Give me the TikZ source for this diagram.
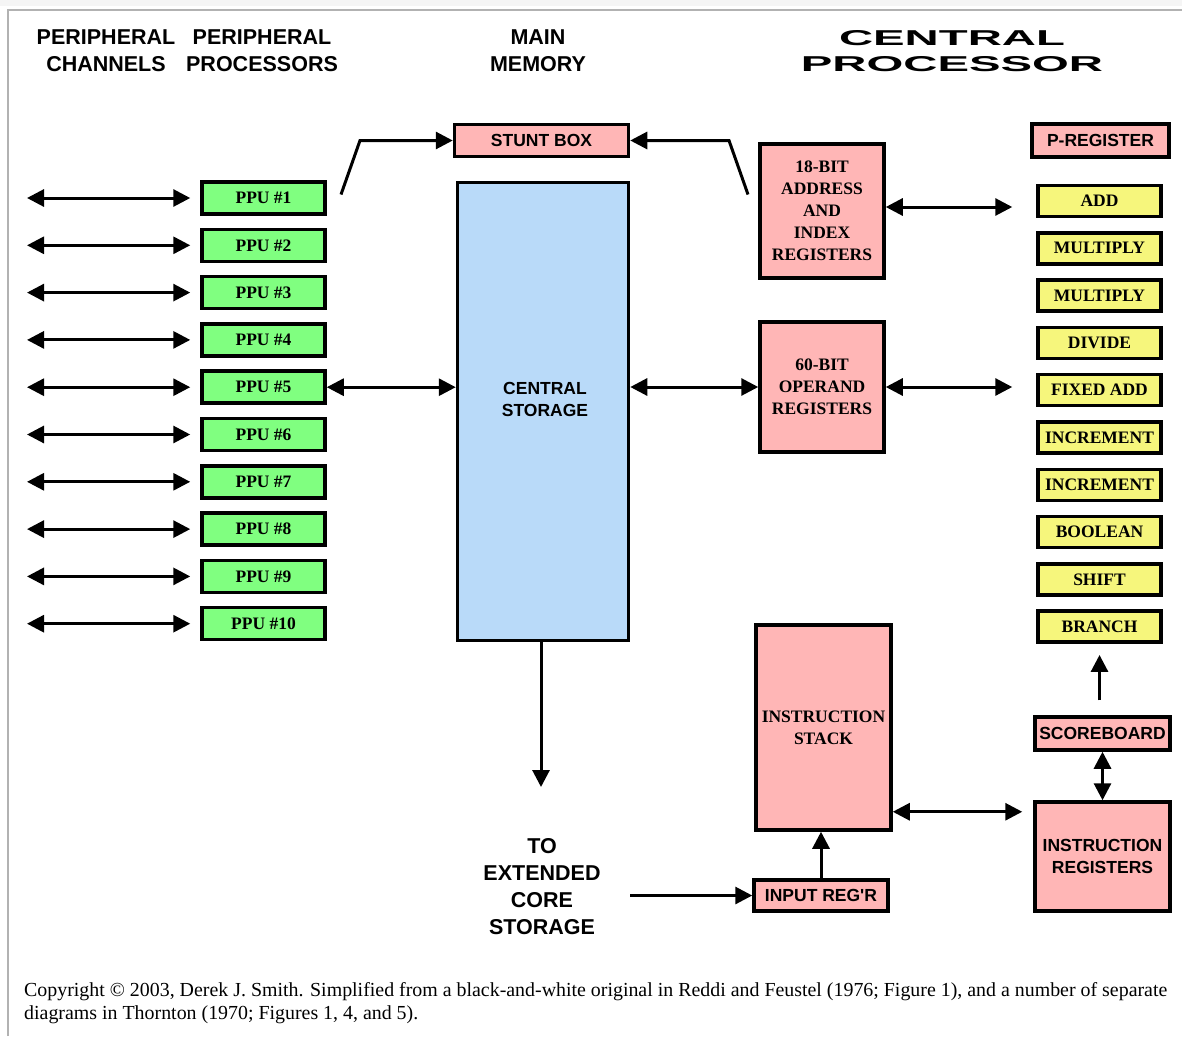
\documentclass[tikz,border=0pt]{standalone}
\usepackage{fontspec}
\setmainfont{Liberation Serif}
\setsansfont{Liberation Sans}
\newfontfamily\widefont[FakeStretch=2.2]{Liberation Sans}
\usetikzlibrary{arrows.meta}
\definecolor{ppugreen}{RGB}{128,255,128}
\definecolor{unityellow}{RGB}{246,246,124}
\definecolor{regpink}{RGB}{255,182,182}
\definecolor{storeblue}{RGB}{185,218,249}
\newcommand{\boxfont}{\fontsize{17.5}{22}\selectfont\bfseries}

\begin{document}
\begin{tikzpicture}[x=1pt,y=-1pt,>={Triangle[length=17pt,width=17pt]},
  box/.style={draw,line width=3.5pt,inner sep=0pt,align=center},
  ppubox/.style={box,fill=ppugreen,minimum width=123pt,minimum height=32pt,font=\rmfamily\boxfont},
  unitbox/.style={box,fill=unityellow,minimum width=123pt,minimum height=31pt,font=\rmfamily\boxfont},
  regbox/.style={box,fill=regpink},
  heading/.style={font=\sffamily\bfseries\fontsize{21.5}{27}\selectfont,align=center},
  link/.style={line width=3pt}]
  \useasboundingbox (0,0) rectangle (1182,1036);
  \fill[gray!8] (0,0) rectangle (1182,6);
  \draw[gray!60,line width=2pt] (8,1036) -- (8,10) -- (1182,10);

  % column headings
  \node[heading] (pchan) at (106,51) {PERIPHERAL\\CHANNELS};
  \node[heading] (pproc) at (262,51) {PERIPHERAL\\PROCESSORS};
  \node[heading] (mainmem) at (538,51) {MAIN\\MEMORY};
  \node[heading,font=\widefont\bfseries\fontsize{21.5}{26}\selectfont] (cpu) at (952,51) {CENTRAL\\PROCESSOR};

  % peripheral processors
  \node[ppubox] (ppu1) at (263.5,198) {PPU \#1};
  \node[ppubox] (ppu2) at (263.5,245.3) {PPU \#2};
  \node[ppubox] (ppu3) at (263.5,292.6) {PPU \#3};
  \node[ppubox] (ppu4) at (263.5,339.9) {PPU \#4};
  \node[ppubox] (ppu5) at (263.5,387.2) {PPU \#5};
  \node[ppubox] (ppu6) at (263.5,434.5) {PPU \#6};
  \node[ppubox] (ppu7) at (263.5,481.8) {PPU \#7};
  \node[ppubox] (ppu8) at (263.5,529.1) {PPU \#8};
  \node[ppubox] (ppu9) at (263.5,576.4) {PPU \#9};
  \node[ppubox] (ppu10) at (263.5,623.7) {PPU \#10};

  \coordinate (ch1) at (27,198);
  \coordinate (ch2) at (27,245.3);
  \coordinate (ch3) at (27,292.6);
  \coordinate (ch4) at (27,339.9);
  \coordinate (ch5) at (27,387.2);
  \coordinate (ch6) at (27,434.5);
  \coordinate (ch7) at (27,481.8);
  \coordinate (ch8) at (27,529.1);
  \coordinate (ch9) at (27,576.4);
  \coordinate (ch10) at (27,623.7);
  \draw[link,<->,shorten >=10pt] (ch1) -- (ppu1.west);
  \draw[link,<->,shorten >=10pt] (ch2) -- (ppu2.west);
  \draw[link,<->,shorten >=10pt] (ch3) -- (ppu3.west);
  \draw[link,<->,shorten >=10pt] (ch4) -- (ppu4.west);
  \draw[link,<->,shorten >=10pt] (ch5) -- (ppu5.west);
  \draw[link,<->,shorten >=10pt] (ch6) -- (ppu6.west);
  \draw[link,<->,shorten >=10pt] (ch7) -- (ppu7.west);
  \draw[link,<->,shorten >=10pt] (ch8) -- (ppu8.west);
  \draw[link,<->,shorten >=10pt] (ch9) -- (ppu9.west);
  \draw[link,<->,shorten >=10pt] (ch10) -- (ppu10.west);

  % main memory
  \node[regbox,minimum width=174pt,minimum height=32pt,font=\sffamily\boxfont] (stunt) at (541.5,140.5) {STUNT BOX};
  \node[box,fill=storeblue,minimum width=171pt,minimum height=458pt] (cs) at (543,411.5) {};
  \node[font=\sffamily\boxfont,align=center] (cstext) at (545,399) {CENTRAL\\STORAGE};
  \node[heading] (ecs) at (542,886.5) {TO\\EXTENDED\\CORE\\STORAGE};

  % central processor
  \node[regbox,minimum width=124pt,minimum height=134pt,font=\rmfamily\boxfont] (addr) at (822,211) {18-BIT\\ADDRESS\\AND\\INDEX\\REGISTERS};
  \node[regbox,minimum width=124pt,minimum height=130pt,font=\rmfamily\boxfont] (oper) at (822,387) {60-BIT\\OPERAND\\REGISTERS};
  \node[regbox,minimum width=135pt,minimum height=205pt,font=\rmfamily\boxfont] (stack) at (823.5,727.5) {INSTRUCTION\\STACK};
  \node[regbox,minimum width=134pt,minimum height=31pt,font=\sffamily\boxfont] (inreg) at (821,895.5) {INPUT REG\textquotesingle R};
  \node[regbox,minimum width=137pt,minimum height=33pt,font=\sffamily\boxfont] (preg) at (1100.5,140.5) {P-REGISTER};
  \node[regbox,minimum width=135pt,minimum height=33pt,font=\sffamily\boxfont] (score) at (1102.5,733.5) {SCOREBOARD};
  \node[regbox,minimum width=135pt,minimum height=109pt,font=\sffamily\boxfont] (ireg) at (1102.5,856.5) {INSTRUCTION\\REGISTERS};

  % functional units
  \node[unitbox] (add) at (1099.5,201) {ADD};
  \node[unitbox] (mult1) at (1099.5,248.3) {MULTIPLY};
  \node[unitbox] (mult2) at (1099.5,295.6) {MULTIPLY};
  \node[unitbox] (divide) at (1099.5,342.9) {DIVIDE};
  \node[unitbox] (fxadd) at (1099.5,390.2) {FIXED ADD};
  \node[unitbox] (incr1) at (1099.5,437.5) {INCREMENT};
  \node[unitbox] (incr2) at (1099.5,484.8) {INCREMENT};
  \node[unitbox] (boolean) at (1099.5,532.1) {BOOLEAN};
  \node[unitbox] (shift) at (1099.5,579.4) {SHIFT};
  \node[unitbox] (branch) at (1099.5,626.7) {BRANCH};

  % connections
  \draw[link,<->] (ppu5.east) -- (ppu5.east -| cs.west);
  \coordinate (sbl) at (341,194.5);
  \coordinate (sbr) at (748,194.5);
  \draw[link,->] (sbl) -- ++(19,-54) -- (stunt.west);
  \draw[link,->] (sbr) -- ++(-19,-54) -- (stunt.east);
  \draw[link,<->,shorten >=24pt] ([yshift=4pt]addr.east) -- ([yshift=4pt]addr.east -| add.west);
  \draw[link,<->] (oper.west -| cs.east) -- (oper.west);
  \draw[link,<->,shorten >=24pt] (oper.east) -- (oper.east -| fxadd.west);
  \coordinate (ecsin) at (541,787);
  \coordinate (ecsout) at (630,895.5);
  \draw[link,->] (cs.south -| ecsin) -- (ecsin);
  \draw[link,->] (ecsout) -- (inreg.west);
  \draw[link,->] (inreg.north) -- (inreg.north |- stack.south);
  \draw[link,<->,shorten >=11pt] ([yshift=20pt]stack.south east) -- ([yshift=20pt]stack.south east -| ireg.west);
  \draw[link,<->] (score.south) -- (ireg.north);
  \draw[link,->,shorten <=15pt,shorten >=11pt] (score.north -| branch) -- (branch.south);

  % source note
  \node[anchor=base west,inner sep=0pt,font=\rmfamily\fontsize{19.9}{23}\selectfont] (note1) at (24,996) {Copyright \textcopyright{} 2003, Derek J. Smith. Simplified from a black-and-white original in Reddi and Feustel (1976; Figure 1), and a number of separate};
  \node[anchor=base west,inner sep=0pt,font=\rmfamily\fontsize{19.9}{23}\selectfont] (note2) at (24,1019) {diagrams in Thornton (1970; Figures 1, 4, and 5).};
\end{tikzpicture}
\end{document}
